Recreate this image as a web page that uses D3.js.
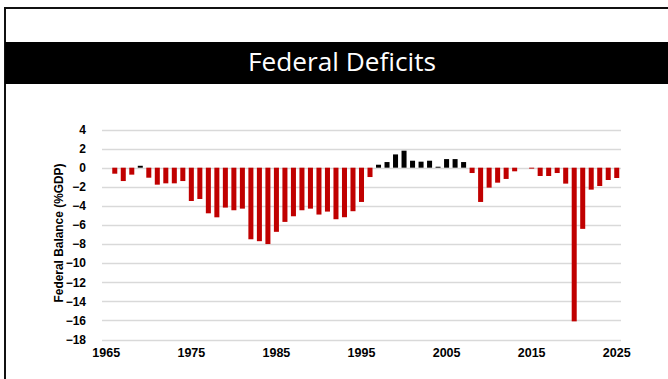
<!DOCTYPE html>
<html>
<head>
<meta charset="utf-8">
<script src="https://cdn.jsdelivr.net/npm/d3@7"></script>
<style>
  html, body { margin: 0; padding: 0; background: #fff; }
  svg { display: block; }
</style>
</head>
<body>
<svg id="chart" width="668" height="379"></svg>
<script>
// Federal balance as a share of GDP, by fiscal year
const years = d3.range(1966, 2026);
const balance = [
  -0.63, -1.4, -0.73, 0.2, -1.05, -1.78, -1.64, -1.64, -1.4, -3.49,
  -3.28, -4.78, -5.2, -4.18, -4.46, -4.29, -7.5, -7.7, -8.0, -6.72,
  -5.68, -5.09, -4.46, -4.29, -4.91, -4.6, -5.4, -5.19, -4.56, -3.59,
  -0.98, 0.31, 0.59, 1.39, 1.78, 0.73, 0.63, 0.73, 0.1, 0.9,
  0.9, 0.59, -0.56, -3.59, -2.09, -1.57, -1.18, -0.38, 0, -0.1,
  -0.87, -0.87, -0.56, -1.67, -16.1, -6.41, -2.3, -1.92, -1.29, -1.08
];
const axisYears = d3.range(1965, 2026);
const xTickYears = [1965, 1975, 1985, 1995, 2005, 2015, 2025];
const yTicks = d3.range(-18, 5, 2);

const titleText = "Federal Deficits";
const yAxisTitle = "Federal Balance (%GDP)";

const svg = d3.select("#chart");

// slide frame
svg.append("line").attr("x1", 4).attr("x2", 668).attr("y1", 8).attr("y2", 8)
  .attr("stroke", "#111").attr("stroke-width", 2.2);
svg.append("line").attr("x1", 5).attr("x2", 5).attr("y1", 7).attr("y2", 379)
  .attr("stroke", "#111").attr("stroke-width", 2);

// title band
svg.append("rect").attr("x", 5).attr("y", 42).attr("width", 663).attr("height", 42)
  .attr("fill", "#000");
svg.append("text")
  .attr("x", 342).attr("y", 71)
  .attr("text-anchor", "middle")
  .attr("fill", "#fff")
  .style("font-family", "'Open Sans', sans-serif")
  .style("font-size", "26px")
  .attr("textLength", 188)
  .attr("lengthAdjust", "spacingAndGlyphs")
  .text(titleText);

// scales
const x = d3.scaleBand()
  .domain(axisYears)
  .range([102, 621])
  .paddingInner(0.41)
  .paddingOuter(0.205);

const y = d3.scaleLinear()
  .domain([-18, 4])
  .range([339.5, 129.5]);

// horizontal gridlines
svg.append("g")
  .selectAll("line")
  .data(yTicks)
  .join("line")
  .attr("x1", 102).attr("x2", 621)
  .attr("y1", d => Math.round(y(d)) + 0.5)
  .attr("y2", d => Math.round(y(d)) + 0.5)
  .attr("stroke", "#d9d9d9")
  .attr("stroke-width", 1.3);

// y axis labels
const yAxis = d3.axisLeft(y).tickValues(yTicks).tickSize(0).tickPadding(0)
  .tickFormat(d3.format("d"));
const yG = svg.append("g").attr("transform", "translate(86,0)").call(yAxis);
yG.select(".domain").remove();
yG.selectAll("text")
  .attr("fill", "#000")
  .style("font-family", "'Liberation Sans', Arial, sans-serif")
  .style("font-size", "12px")
  .style("font-weight", "bold");

// x axis labels
const xAxis = d3.axisBottom(x).tickValues(xTickYears).tickSize(0).tickPadding(0);
const xG = svg.append("g").attr("transform", "translate(0,348)").call(xAxis);
xG.select(".domain").remove();
xG.selectAll("text")
  .attr("fill", "#000")
  .style("font-family", "'Liberation Sans', Arial, sans-serif")
  .style("font-size", "12.5px")
  .style("font-weight", "bold");

// y axis title
svg.append("text")
  .attr("transform", "translate(63,233) rotate(-90)")
  .attr("text-anchor", "middle")
  .attr("fill", "#000")
  .style("font-family", "'Liberation Sans', Arial, sans-serif")
  .style("font-size", "12.5px")
  .style("font-weight", "bold")
  .attr("textLength", 139)
  .attr("lengthAdjust", "spacingAndGlyphs")
  .text(yAxisTitle);

// bars: surpluses in black, deficits in red
const data = years.map((yr, i) => ({ year: yr, value: balance[i] }));
svg.append("g")
  .selectAll("rect")
  .data(data)
  .join("rect")
  .attr("x", d => x(d.year))
  .attr("width", x.bandwidth())
  .attr("y", d => y(Math.max(0, d.value)))
  .attr("height", d => Math.abs(y(d.value) - y(0)))
  .attr("fill", d => d.value >= 0 ? "#000000" : "#c00000");
</script>
</body>
</html>
